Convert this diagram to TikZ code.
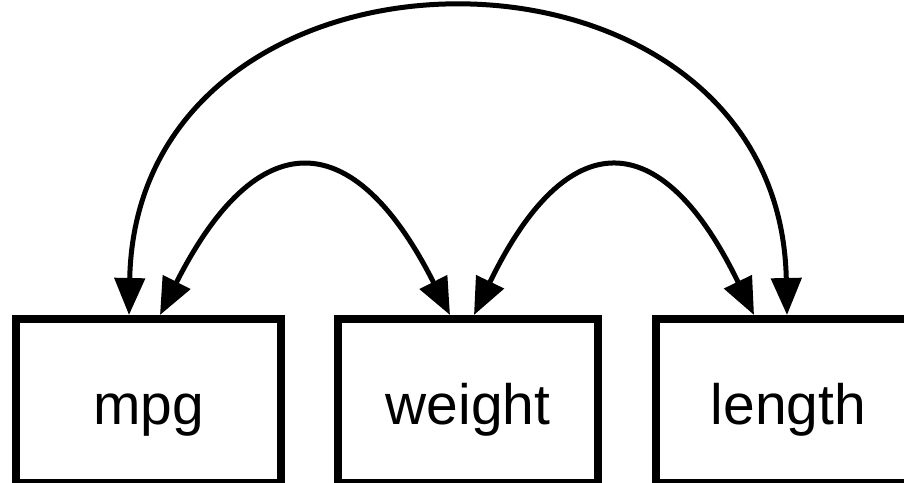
\documentclass[tikz,border=0pt]{standalone}
\usepackage{fontspec}
\setmainfont{Liberation Sans}
\usepackage{tikz}
\usetikzlibrary{positioning,arrows.meta}
\tikzset{
    var/.style={
        rectangle,
        draw=black,
        line width=0.154cm,
        minimum width=5.26cm,
        minimum height=3.28cm,
        text height=1.1cm,
        text depth=0.174cm,
        font=\fontsize{32.4}{38}\selectfont
    },
    cov/.style={
        {Triangle[length=0.74cm,width=0.6cm]}-{Triangle[length=0.74cm,width=0.6cm]},
        line width=0.1cm
    }
}

\begin{document}
\begin{tikzpicture}
          \useasboundingbox (0,0) rectangle (18.08,-9.64);
          \node (mpg) [var, minimum width=5.306cm] at (2.97,-8.017) {mpg};
          \node (weight) [var, minimum width=5.206cm] at (9.36,-8.017) {weight};
          \node (length) [var, minimum width=5.306cm] at (15.77,-8.017) {length};
          \draw [cov] ([xshift=-0.39cm]mpg.north) .. controls +(0.16,8.06) and +(-0.16,8.06) .. ([xshift=-0.03cm]length.north);
          \draw [cov] ([xshift=0.23cm]mpg.north) .. controls +(1.94,3.84) and +(-1.94,3.84) .. ([xshift=-0.36cm]weight.north);
          \draw [cov] ([xshift=0.12cm]weight.north) .. controls +(1.86,3.84) and +(-1.86,3.84) .. ([xshift=-0.69cm]length.north);
        \end{tikzpicture}
\end{document}
